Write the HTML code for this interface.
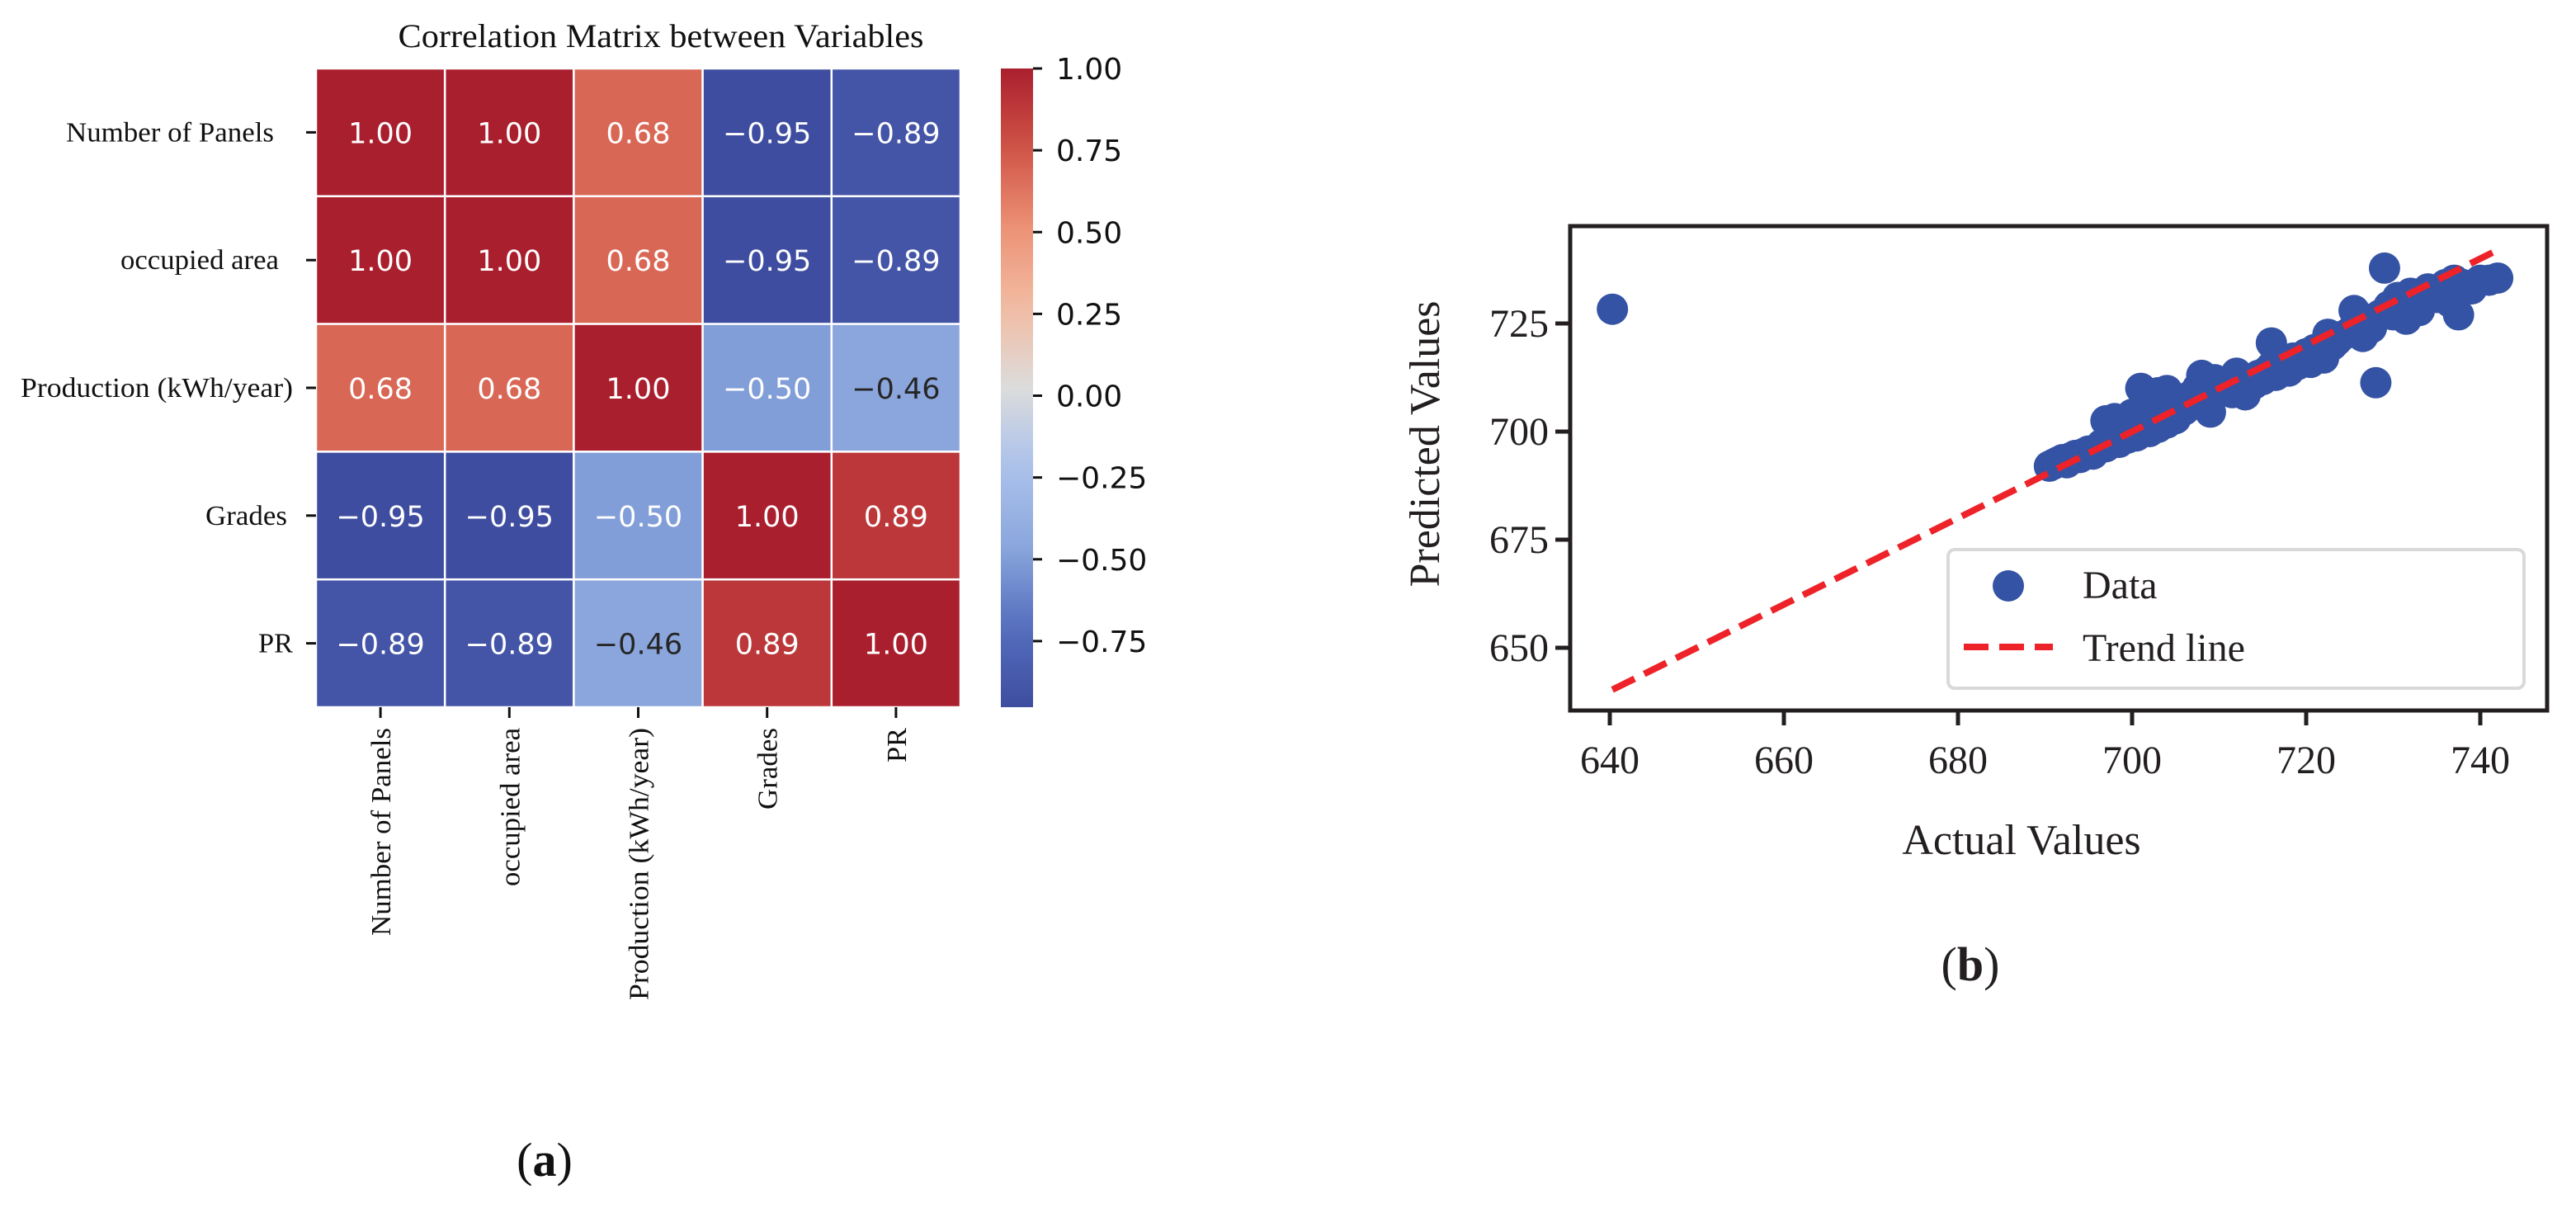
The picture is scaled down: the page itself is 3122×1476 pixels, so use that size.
<!DOCTYPE html>
<html><head><meta charset="utf-8"><style>
html,body{margin:0;padding:0;background:#fff;}
svg{display:block;}
</style></head><body>
<svg id="fig" width="3122" height="1476" viewBox="0 0 3122 1476" xmlns="http://www.w3.org/2000/svg">
<defs><linearGradient id="cbgrad" x1="0" y1="1" x2="0" y2="0"></linearGradient></defs>
<rect x="0" y="0" width="3122" height="1476" fill="#fff"/>
<g id="heat"></g>
<g id="scatter"></g>
</svg>
<script>
const NS="http://www.w3.org/2000/svg";
// ---------- Heatmap data ----------
const varLabels=["Number of Panels","occupied area","Production (kWh/year)","Grades","PR"];
const labelWidths=[252,192,330,99,42];
const row0=[1.00,1.00,0.68,-0.95,-0.89];
const row1=[1.00,1.00,0.68,-0.95,-0.89];
const row2=[0.68,0.68,1.00,-0.50,-0.46];
const row3=[-0.95,-0.95,-0.50,1.00,0.89];
const row4=[-0.89,-0.89,-0.46,0.89,1.00];
const cbTicks=[1.00,0.75,0.50,0.25,0.00,-0.25,-0.50,-0.75];
const vmin=-0.952, vmax=1.0;
// ---------- Scatter data ----------
const actual=[640.3,690.5,691,691.5,692,692.5,693,693.5,694,694.5,695,695.5,696,696.5,697,697,697.5,698,698,698.5,699,699.5,700,700,700.5,701,701,701.5,702,702,702.5,703,703,703.5,704,704,704.5,705,705.5,706,706.5,707,707.5,708,708.5,709,709,709.5,710,711,711.5,712,712.5,713,713.5,714,714.5,715,715.5,716,716,716.5,717,718,718.5,719,720,720.5,721,722,722.5,723,723.5,724,725,725.5,726,726.5,727,727.5,728,728.5,729,729.5,730,730.5,731,731.5,732,733,734,735,736,736.5,737,737.5,738,739,740,741,742];
const predicted=[728.3,692,692.5,693,693.5,692.8,694,694.5,694,695,695.5,694.8,696,697,696.5,702.5,698,699,703,697.5,700,698.5,701,704,699,710,702,706,700,708,703,709,701,705,709.5,702,706,703,707,705,708,707,710,713,709,704.5,711,712,710,711.5,709,713.5,710,708.5,712,711,713,712,714,720.5,715,713,716,714,717,715.5,718,716,719,717,722.5,720,721,722,723,728,725,722,726,724,711.3,727,737.8,729,727,731,730,726,732,728,733,731,734,730,735,727,734,733,735,735,735.5];
const xTicks=[640,660,680,700,720,740];
const yTicks=[650,675,700,725];
const trendX=[640.3,742.5];

function el(tag,attrs,parent){const e=document.createElementNS(NS,tag);for(const k in attrs)e.setAttribute(k,attrs[k]);parent.appendChild(e);return e;}
const stops=[[0,62,77,160],[0.125,84,110,190],[0.25,138,166,220],[0.375,170,193,236],[0.5,220,220,220],[0.625,242,188,163],[0.75,236,146,118],[0.875,208,84,70],[1,170,31,46]];
function cmap(v){let t=(v-vmin)/(vmax-vmin);t=Math.max(0,Math.min(1,t));
 for(let i=0;i<stops.length-1;i++){const a=stops[i],b=stops[i+1];if(t<=b[0]){const f=(t-a[0])/(b[0]-a[0]);
 return `rgb(${Math.round(a[1]+f*(b[1]-a[1]))},${Math.round(a[2]+f*(b[2]-a[2]))},${Math.round(a[3]+f*(b[3]-a[3]))})`;}}
 return "rgb(170,31,46)";}

// ---- heatmap ----
const H=document.getElementById('heat');
const hx0=383,hy0=83,cw=156.2,ch=154.8;
const rows=[row0,row1,row2,row3,row4];
const SERIF='"Liberation Serif", serif', SANS='"DejaVu Sans","Liberation Sans", sans-serif';
let t=el('text',{x:801,y:57,'text-anchor':'middle','font-family':SERIF,'font-size':40,fill:'#111',textLength:637,lengthAdjust:'spacingAndGlyphs'},H);
t.textContent="Correlation Matrix between Variables";


rows.forEach((row,r)=>{row.forEach((v,c)=>{
 const rc=el('rect',{x:hx0+c*cw,y:hy0+r*ch,width:cw,height:ch,fill:cmap(v),stroke:'#fff','stroke-width':2.5},H);
 
 
 const light=Math.abs(v)<0.48;
 const tx=el('text',{x:hx0+(c+0.5)*cw,y:hy0+(r+0.5)*ch+13,'text-anchor':'middle','font-family':SANS,'font-size':35,fill:light?'#262626':'#fff'},H);
 tx.textContent=(v<0?'\u2212':'')+Math.abs(v).toFixed(2);
 
 
});});
const rowRight=[332,338,355,348,355];
varLabels.forEach((lab,i)=>{
 const cy=hy0+(i+0.5)*ch;
 el('line',{x1:371,x2:383,y1:cy,y2:cy,stroke:'#111','stroke-width':3},H);
 const tl=el('text',{x:rowRight[i],y:cy+11,'text-anchor':'end','font-family':SERIF,'font-size':34,fill:'#111',textLength:labelWidths[i],lengthAdjust:'spacingAndGlyphs'},H);
 tl.textContent=lab;
 
 
 const cx=hx0+(i+0.5)*cw;
 el('line',{x1:cx,x2:cx,y1:857,y2:870,stroke:'#111','stroke-width':3},H);
 const cl=el('text',{x:0,y:0,'text-anchor':'end','font-family':SERIF,'font-size':34,fill:'#111',textLength:labelWidths[i],lengthAdjust:'spacingAndGlyphs',transform:`translate(${cx+12},882) rotate(-90)`},H);
 cl.textContent=lab;
 
 
});
// colorbar
const grad=document.getElementById('cbgrad');
for(let i=0;i<=20;i++){const f=i/20;el('stop',{offset:f,'stop-color':cmap(vmin+f*(vmax-vmin))},grad);}
const cbx=1213,cbw=39,cbTop=83,cbBot=857;
const cb=el('rect',{x:cbx,y:cbTop,width:cbw,height:cbBot-cbTop,fill:'url(#cbgrad)'},H);


function cbY(v){return cbBot-(v-vmin)/(vmax-vmin)*(cbBot-cbTop);}
cbTicks.forEach(v=>{const y=cbY(v);
 el('line',{x1:cbx+cbw,x2:cbx+cbw+11,y1:y,y2:y,stroke:'#111','stroke-width':3},H);
 const tl=el('text',{x:1280,y:y+13,'font-family':SANS,'font-size':36,fill:'#111'},H);
 tl.textContent=(v<0?'\u2212':'')+Math.abs(v).toFixed(2);
 
 
});
t=el('text',{x:660,y:1425,'text-anchor':'middle','font-family':SERIF,'font-size':58,fill:'#111'},H);
t.innerHTML='(<tspan font-weight="bold">a</tspan>)';



// ---- scatter ----
const S=document.getElementById('scatter');
const ax0=1903,ax1=3087,ay0=274,ay1=861;
function X(v){return 1951+(v-640)*10.55;}
function Y(v){return 392-(v-725)*5.24;}
const clip=el('clipPath',{id:'axclip'},S);el('rect',{x:ax0,y:ay0,width:ax1-ax0,height:ay1-ay0},clip);
const pts=el('g',{'clip-path':'url(#axclip)'},S);
actual.forEach((a,i)=>{const c=el('circle',{cx:X(a),cy:Y(predicted[i]),r:19,fill:'#3553a4'},pts);
 
 });
const tr=el('line',{x1:X(trendX[0]),y1:Y(trendX[0]),x2:X(trendX[1]),y2:Y(trendX[1]),stroke:'#ee2229','stroke-width':8,'stroke-dasharray':'30 13'},S);


const fr=el('rect',{x:ax0,y:ay0,width:ax1-ax0,height:ay1-ay0,fill:'none',stroke:'#231f20','stroke-width':5},S);


xTicks.forEach(v=>{const x=X(v);el('line',{x1:x,x2:x,y1:ay1,y2:ay1+18,stroke:'#231f20','stroke-width':5},S);
 const tl=el('text',{x:x,y:937,'text-anchor':'middle','font-family':SERIF,'font-size':48,fill:'#231f20'},S);
 tl.textContent=v;
 
 });
yTicks.forEach(v=>{const y=Y(v);el('line',{x1:ax0-18,x2:ax0,y1:y,y2:y,stroke:'#231f20','stroke-width':5},S);
 const tl=el('text',{x:ax0-26,y:y+16,'text-anchor':'end','font-family':SERIF,'font-size':48,fill:'#231f20'},S);
 tl.textContent=v;
 
 });
t=el('text',{x:2450,y:1035,'text-anchor':'middle','font-family':SERIF,'font-size':52,fill:'#231f20'},S);
t.textContent="Actual Values";


t=el('text',{x:0,y:0,'text-anchor':'middle','font-family':SERIF,'font-size':52,fill:'#231f20',transform:'translate(1744,538) rotate(-90)'},S);
t.textContent="Predicted Values";


// legend
const lg=el('rect',{x:2361,y:666,width:698,height:168,rx:8,fill:'#fff',stroke:'#d9d9d9','stroke-width':4},S);


const lm=el('circle',{cx:2434,cy:710,r:19,fill:'#3553a4'},S);


t=el('text',{x:2524,y:725,'font-family':SERIF,'font-size':48,fill:'#231f20'},S);
t.textContent="Data";


const ll=el('line',{x1:2380,x2:2488,y1:784,y2:784,stroke:'#ee2229','stroke-width':8,'stroke-dasharray':'30 13'},S);


t=el('text',{x:2524,y:801,'font-family':SERIF,'font-size':48,fill:'#231f20'},S);
t.textContent="Trend line";


t=el('text',{x:2388,y:1188,'text-anchor':'middle','font-family':SERIF,'font-size':58,fill:'#231f20'},S);
t.innerHTML='(<tspan font-weight="bold">b</tspan>)';


</script>
</body></html>
